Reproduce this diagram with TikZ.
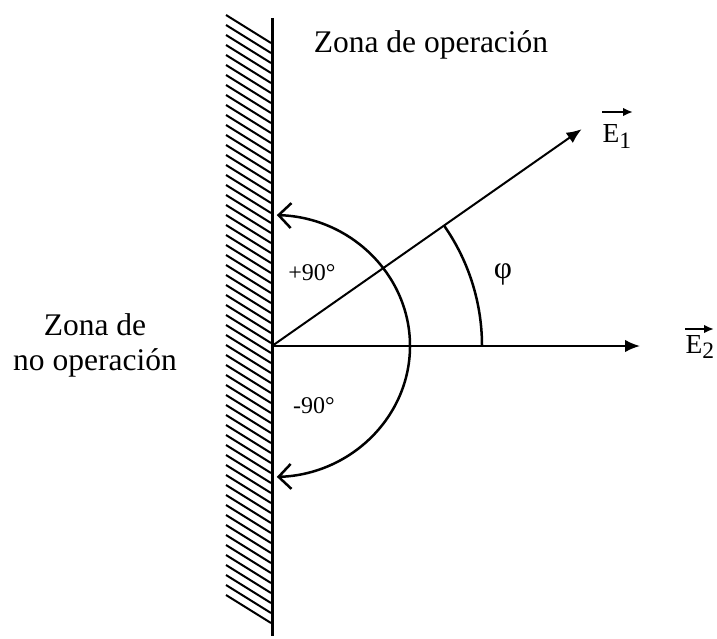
\documentclass[tikz,border=0pt]{standalone}
\usepackage{fontspec}
\setmainfont{Liberation Serif}
\usepackage{tikz}
\usetikzlibrary{arrows.meta, calc}

\newcommand{\vecE}[1]{E\raisebox{-0.45ex}{\fontsize{9.4}{10}\selectfont #1}}

\begin{document}
\begin{tikzpicture}[
    x=0.4pt, y=-0.4pt,
    wall/.style    = {line width=1.2pt, color=black},
    hatch/.style   = {line width=0.8pt, color=black},
    vec/.style     = {-{Latex[length=6pt,width=5pt]}, line width=0.8pt},
    hat/.style     = {-{Latex[length=4pt,width=3.4pt]}, line width=0.8pt},
    swing/.style   = {{Straight Barb[length=5pt,width=10pt]}-{Straight Barb[length=5pt,width=10pt]},
                      line width=1pt},
    anglearc/.style= {line width=1pt},
    zone/.style    = {font=\fontsize{12.6}{14}\selectfont, align=center},
    tag/.style     = {font=\fontsize{9.6}{11}\selectfont},
    vlabel/.style  = {font=\fontsize{11}{13}\selectfont, anchor=base west, inner sep=0pt},
  ]
    \useasboundingbox (0,0) rectangle (717,638);

    % ── Wall with hatching ───────────────────────────────────
    \coordinate (wtop) at (272, 18);
    \coordinate (wbot) at (272, 636);
    \foreach \y in {15,25,...,595}
        \draw[hatch] (226,\y) -- (271,\y+28);
    \draw[wall] (wtop) -- (wbot);

    % ── Vectors ──────────────────────────────────────────────
    \coordinate (O)   at (272, 346);
    \coordinate (e1)  at ($(O)+(-35:378)$);
    \coordinate (e2)  at (640, 346);
    \draw[vec] (O) -- (e1);
    \draw[vec] (O) -- (e2);
    \node[vlabel] (lab1) at (602, 143) {\vecE{1}};
    \node[vlabel] (lab2) at (685, 353) {\vecE{2}};
    \draw[hat] ($(lab1.base west)+(0,-31)$) -- ++(31,0);
    \draw[hat] ($(lab2.base west)+(0,-24)$) -- ++(29,0);

    % ── Angles ───────────────────────────────────────────────
    \draw[swing] ($(O)+(-88:138 and 131)$)
        arc[start angle=-88, end angle=88, x radius=138, y radius=131];
    \draw[anglearc] ($(O)+(0:210)$) arc[start angle=0, end angle=-35, radius=210];
    \node[tag] (plus)  at (312, 273) {+90°};
    \node[tag] (minus) at (314, 406) {-90°};
    \node[zone] (phi)  at (503, 274) {φ};

    % ── Zones ────────────────────────────────────────────────
    \node[zone] (op)   at (431, 45)  {Zona de operación};
    \node[zone] (noop) at (95, 345)  {Zona de\\no operación};

  \end{tikzpicture}
\end{document}
